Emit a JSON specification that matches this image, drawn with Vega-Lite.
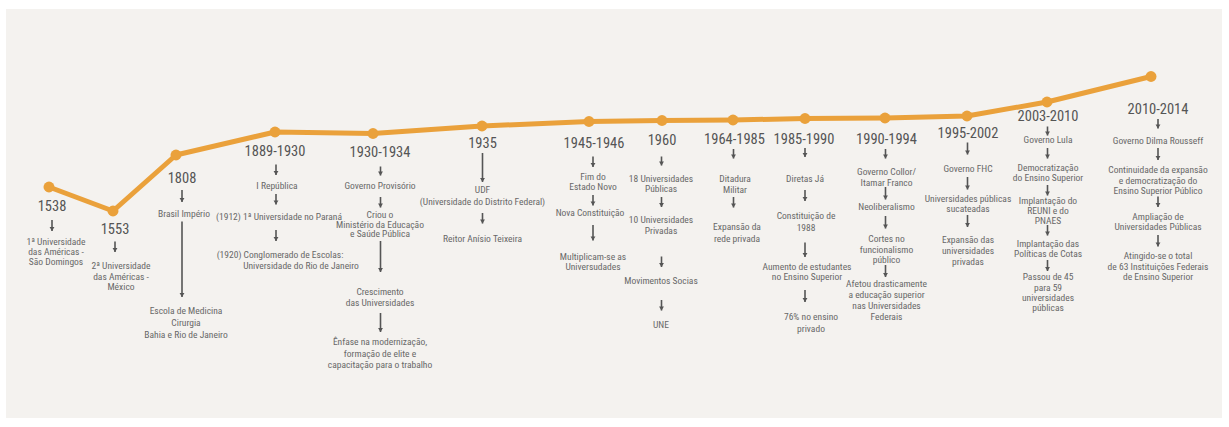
{
  "$schema": "https://vega.github.io/schema/vega-lite/v6.json",
  "width": 1229,
  "height": 427,
  "autosize": {"type": "fit", "contains": "padding"},
  "padding": {"left": 6, "right": 7, "top": 9, "bottom": 9},
  "background": "#ffffff",
  "config": {"view": {"stroke": null, "fill": "#f4f2ef"}},
  "datasets": {
    "marcos": [
      {"periodo": "1538", "pos": 49, "nivel": 24},
      {"periodo": "1553", "pos": 113, "nivel": 0},
      {"periodo": "1808", "pos": 176, "nivel": 56},
      {"periodo": "1889-1930", "pos": 275, "nivel": 79},
      {"periodo": "1930-1934", "pos": 373, "nivel": 77.5},
      {"periodo": "1935", "pos": 482, "nivel": 85},
      {"periodo": "1945-1946", "pos": 589, "nivel": 89.5},
      {"periodo": "1960", "pos": 662, "nivel": 90.5},
      {"periodo": "1964-1985", "pos": 733, "nivel": 91},
      {"periodo": "1985-1990", "pos": 805, "nivel": 92.5},
      {"periodo": "1990-1994", "pos": 885, "nivel": 93},
      {"periodo": "1995-2002", "pos": 967, "nivel": 95},
      {"periodo": "2003-2010", "pos": 1047, "nivel": 109},
      {"periodo": "2010-2014", "pos": 1151, "nivel": 134.5}
    ],
    "anos": [
      {"texto": "1538", "pos": 52, "linha": 206.5},
      {"texto": "1553", "pos": 115, "linha": 230},
      {"texto": "1808", "pos": 182, "linha": 178.5},
      {"texto": "1889-1930", "pos": 275, "linha": 152},
      {"texto": "1930-1934", "pos": 380, "linha": 153},
      {"texto": "1935", "pos": 482.5, "linha": 143.5},
      {"texto": "1945-1946", "pos": 594, "linha": 143.5},
      {"texto": "1960", "pos": 662, "linha": 140.5},
      {"texto": "1964-1985", "pos": 734.5, "linha": 140},
      {"texto": "1985-1990", "pos": 804, "linha": 140},
      {"texto": "1990-1994", "pos": 886.5, "linha": 140},
      {"texto": "1995-2002", "pos": 968, "linha": 133.5},
      {"texto": "2003-2010", "pos": 1048, "linha": 117},
      {"texto": "2010-2014", "pos": 1158, "linha": 110}
    ],
    "itens": [
      {"texto": "1ª Universidade", "pos": 56, "linha": 241.5},
      {"texto": "das Américas -", "pos": 56, "linha": 251.5},
      {"texto": "São Domingos", "pos": 56, "linha": 261.5},
      {"texto": "2ª Universidade", "pos": 121, "linha": 266},
      {"texto": "das Américas -", "pos": 121, "linha": 276.5},
      {"texto": "México", "pos": 121, "linha": 287},
      {"texto": "Brasil Império", "pos": 184, "linha": 214},
      {"texto": "Escola de Medicina", "pos": 186, "linha": 311},
      {"texto": "Cirurgia", "pos": 186, "linha": 323},
      {"texto": "Bahia e Rio de Janeiro", "pos": 186, "linha": 335},
      {"texto": "I República", "pos": 277, "linha": 186},
      {"texto": "(1912) 1ª Universidade no Paraná", "pos": 279, "linha": 217},
      {"texto": "(1920) Conglomerado de Escolas:", "pos": 280, "linha": 255},
      {"texto": "Universidade do Rio de Janeiro", "pos": 301, "linha": 266},
      {"texto": "Governo Provisório", "pos": 380, "linha": 185.5},
      {"texto": "Criou o", "pos": 380, "linha": 215},
      {"texto": "Ministério da Educação", "pos": 380, "linha": 224.5},
      {"texto": "e Saúde Pública", "pos": 380, "linha": 234},
      {"texto": "Crescimento", "pos": 380, "linha": 292},
      {"texto": "das Universidades", "pos": 380, "linha": 303},
      {"texto": "Ênfase na modernização,", "pos": 380, "linha": 342},
      {"texto": "formação de elite e", "pos": 380, "linha": 353.5},
      {"texto": "capacitação para o trabalho", "pos": 380, "linha": 365},
      {"texto": "UDF", "pos": 482.5, "linha": 190},
      {"texto": "(Universidade do Distrito Federal)", "pos": 482.5, "linha": 201.5},
      {"texto": "Reitor Anísio Teixeira", "pos": 482.5, "linha": 238.5},
      {"texto": "Fim do", "pos": 593, "linha": 176.5},
      {"texto": "Estado Novo", "pos": 593, "linha": 186.5},
      {"texto": "Nova Constituição", "pos": 590, "linha": 212.5},
      {"texto": "Multiplicam-se as", "pos": 593, "linha": 256.5},
      {"texto": "Universudades", "pos": 593, "linha": 266.5},
      {"texto": "18 Universidades", "pos": 661, "linha": 178.5},
      {"texto": "Públicas", "pos": 661, "linha": 188.5},
      {"texto": "10 Universidades", "pos": 661, "linha": 220},
      {"texto": "Privadas", "pos": 661, "linha": 231},
      {"texto": "Movimentos Socias", "pos": 661, "linha": 281},
      {"texto": "UNE", "pos": 661, "linha": 324.5},
      {"texto": "Ditadura", "pos": 735, "linha": 178.5},
      {"texto": "Militar", "pos": 735, "linha": 190},
      {"texto": "Expansão da", "pos": 737, "linha": 226.5},
      {"texto": "rede privada", "pos": 737, "linha": 238.5},
      {"texto": "Diretas Já", "pos": 805, "linha": 178.5},
      {"texto": "Constituição de", "pos": 806, "linha": 216},
      {"texto": "1988", "pos": 806, "linha": 227.5},
      {"texto": "Aumento de estudantes", "pos": 807, "linha": 266.5},
      {"texto": "no Ensino Superior", "pos": 807, "linha": 277},
      {"texto": "76% no ensino", "pos": 811, "linha": 317},
      {"texto": "privado", "pos": 811, "linha": 328.5},
      {"texto": "Governo Collor/", "pos": 886.5, "linha": 171.5},
      {"texto": "Itamar Franco", "pos": 886.5, "linha": 182.5},
      {"texto": "Neoliberalismo", "pos": 886.5, "linha": 206.5},
      {"texto": "Cortes no", "pos": 886.5, "linha": 238.5},
      {"texto": "funcionalismo", "pos": 886.5, "linha": 249.5},
      {"texto": "público", "pos": 886.5, "linha": 260},
      {"texto": "Afetou drasticamente", "pos": 886.5, "linha": 284},
      {"texto": "a educação superior", "pos": 886.5, "linha": 295},
      {"texto": "nas Universidades", "pos": 886.5, "linha": 305.5},
      {"texto": "Federais", "pos": 886.5, "linha": 316.5},
      {"texto": "Governo FHC", "pos": 968, "linha": 168.5},
      {"texto": "Universidades públicas", "pos": 968, "linha": 198.5},
      {"texto": "sucateadas", "pos": 968, "linha": 208.5},
      {"texto": "Expansão das", "pos": 968, "linha": 239.5},
      {"texto": "universidades", "pos": 968, "linha": 250.5},
      {"texto": "privadas", "pos": 968, "linha": 261.5},
      {"texto": "Governo Lula", "pos": 1048, "linha": 140},
      {"texto": "Democratização", "pos": 1048, "linha": 167.5},
      {"texto": "do Ensino Superior", "pos": 1048, "linha": 177.5},
      {"texto": "Implantação do", "pos": 1048, "linha": 200.5},
      {"texto": "REUNI e do", "pos": 1048, "linha": 210.5},
      {"texto": "PNAES", "pos": 1048, "linha": 220.5},
      {"texto": "Implantação das", "pos": 1048, "linha": 244},
      {"texto": "Políticas de Cotas", "pos": 1048, "linha": 254},
      {"texto": "Passou de 45", "pos": 1048, "linha": 277},
      {"texto": "para 59", "pos": 1048, "linha": 287.5},
      {"texto": "universidades", "pos": 1048, "linha": 297.5},
      {"texto": "públicas", "pos": 1048, "linha": 307.5},
      {"texto": "Governo Dilma Rousseff", "pos": 1158, "linha": 141},
      {"texto": "Continuidade da expansão", "pos": 1158, "linha": 170},
      {"texto": "e democratização do", "pos": 1158, "linha": 180.5},
      {"texto": "Ensino Superior Público", "pos": 1158, "linha": 191},
      {"texto": "Ampliação de", "pos": 1158, "linha": 217},
      {"texto": "Universidades Públicas", "pos": 1158, "linha": 227},
      {"texto": "Atingido-se o total", "pos": 1158, "linha": 256},
      {"texto": "de 63 Instituições Federais", "pos": 1158, "linha": 266.5},
      {"texto": "de Ensino Superior", "pos": 1158, "linha": 277}
    ],
    "setas": [
      {"pos": 52, "inicio": 220, "fim": 231},
      {"pos": 115, "inicio": 241.5, "fim": 252},
      {"pos": 182, "inicio": 190, "fim": 202},
      {"pos": 182, "inicio": 221.5, "fim": 297},
      {"pos": 276, "inicio": 164.5, "fim": 175},
      {"pos": 276, "inicio": 194, "fim": 204.5},
      {"pos": 276, "inicio": 230, "fim": 241},
      {"pos": 380.5, "inicio": 166.5, "fim": 175.5},
      {"pos": 380.5, "inicio": 197, "fim": 207.5},
      {"pos": 380.5, "inicio": 241, "fim": 272},
      {"pos": 380.5, "inicio": 313, "fim": 332},
      {"pos": 482.5, "inicio": 153, "fim": 182},
      {"pos": 482.5, "inicio": 213, "fim": 223.5},
      {"pos": 593, "inicio": 156.5, "fim": 167},
      {"pos": 593, "inicio": 195, "fim": 205.5},
      {"pos": 593, "inicio": 225, "fim": 240.5},
      {"pos": 661.5, "inicio": 156.5, "fim": 165.5},
      {"pos": 661.5, "inicio": 197, "fim": 207},
      {"pos": 661.5, "inicio": 256.5, "fim": 267},
      {"pos": 661.5, "inicio": 300, "fim": 310.5},
      {"pos": 733.5, "inicio": 149, "fim": 158.5},
      {"pos": 733.5, "inicio": 197, "fim": 207.5},
      {"pos": 805, "inicio": 148, "fim": 157},
      {"pos": 805, "inicio": 190, "fim": 201},
      {"pos": 805, "inicio": 242.5, "fim": 257},
      {"pos": 805, "inicio": 290, "fim": 302},
      {"pos": 885.5, "inicio": 149, "fim": 158.5},
      {"pos": 885.5, "inicio": 187, "fim": 199.5},
      {"pos": 885.5, "inicio": 216, "fim": 228.5},
      {"pos": 885.5, "inicio": 265, "fim": 277},
      {"pos": 967.5, "inicio": 142.5, "fim": 154.5},
      {"pos": 967.5, "inicio": 177, "fim": 189.5},
      {"pos": 967.5, "inicio": 215, "fim": 227},
      {"pos": 1047.5, "inicio": 126.5, "fim": 135.5},
      {"pos": 1047.5, "inicio": 148, "fim": 158.5},
      {"pos": 1047.5, "inicio": 185, "fim": 195.5},
      {"pos": 1047.5, "inicio": 225, "fim": 235.5},
      {"pos": 1047.5, "inicio": 260, "fim": 271},
      {"pos": 1158, "inicio": 119, "fim": 128.5},
      {"pos": 1158, "inicio": 148, "fim": 160},
      {"pos": 1158, "inicio": 196.5, "fim": 207},
      {"pos": 1158, "inicio": 235, "fim": 246.5}
    ]
  },
  "layer": [
    {
      "data": {"name": "marcos"},
      "mark": {"type": "line", "color": "#eaa13b", "strokeWidth": 5, "strokeJoin": "round"},
      "encoding": {
        "x": {"field": "pos", "type": "quantitative", "scale": {"domain": [6, 1222], "nice": false, "zero": false}, "axis": null},
        "y": {"field": "nivel", "type": "quantitative", "scale": {"domain": [-207, 202], "nice": false, "zero": false}, "axis": null},
        "order": {"field": "pos"}
      }
    },
    {
      "data": {"name": "marcos"},
      "mark": {"type": "circle", "color": "#eaa13b", "size": 120, "opacity": 1},
      "encoding": {
        "x": {"field": "pos", "type": "quantitative", "scale": {"domain": [6, 1222], "nice": false, "zero": false}, "axis": null},
        "y": {"field": "nivel", "type": "quantitative", "scale": {"domain": [-207, 202], "nice": false, "zero": false}, "axis": null}
      }
    },
    {
      "data": {"name": "setas"},
      "mark": {"type": "rule", "color": "#555555", "strokeWidth": 1.6},
      "encoding": {
        "x": {"field": "pos", "type": "quantitative", "scale": {"domain": [6, 1222], "nice": false, "zero": false}, "axis": null},
        "y": {"field": "inicio", "type": "quantitative", "scale": {"domain": [9, 418], "reverse": true, "nice": false, "zero": false}, "axis": null},
        "y2": {"field": "fim"}
      }
    },
    {
      "data": {"name": "setas"},
      "mark": {"type": "point", "shape": "triangle-down", "filled": true, "color": "#555555", "size": 24, "opacity": 1},
      "encoding": {
        "x": {"field": "pos", "type": "quantitative", "scale": {"domain": [6, 1222], "nice": false, "zero": false}, "axis": null},
        "y": {"field": "fim", "type": "quantitative", "scale": {"domain": [9, 418], "reverse": true, "nice": false, "zero": false}, "axis": null},
        "yOffset": {"value": -2}
      }
    },
    {
      "data": {"name": "anos"},
      "mark": {"type": "text", "font": "'Roboto Condensed', 'DejaVu Sans Condensed', sans-serif", "fontSize": 14.5, "color": "#555555", "align": "center", "baseline": "middle"},
      "encoding": {
        "x": {"field": "pos", "type": "quantitative", "scale": {"domain": [6, 1222], "nice": false, "zero": false}, "axis": null},
        "y": {"field": "linha", "type": "quantitative", "scale": {"domain": [9, 418], "reverse": true, "nice": false, "zero": false}, "axis": null},
        "text": {"field": "texto"}
      }
    },
    {
      "data": {"name": "itens"},
      "mark": {"type": "text", "font": "'Roboto Condensed', 'DejaVu Sans Condensed', sans-serif", "fontSize": 9.5, "color": "#686868", "align": "center", "baseline": "middle"},
      "encoding": {
        "x": {"field": "pos", "type": "quantitative", "scale": {"domain": [6, 1222], "nice": false, "zero": false}, "axis": null},
        "y": {"field": "linha", "type": "quantitative", "scale": {"domain": [9, 418], "reverse": true, "nice": false, "zero": false}, "axis": null},
        "text": {"field": "texto"}
      }
    }
  ],
  "resolve": {"scale": {"y": "independent"}}
}
